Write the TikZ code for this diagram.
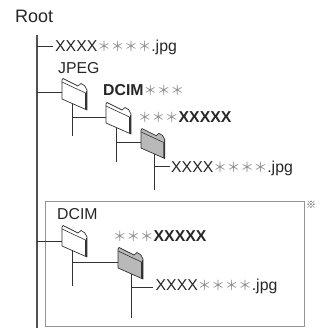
\documentclass[tikz,border=0pt]{standalone}
\usepackage{fontspec}
\setmainfont{Liberation Sans}
\newfontfamily\cjkfont{Noto Sans CJK JP}
\definecolor{ln}{gray}{0.2}
\definecolor{tx}{gray}{0.15}
\definecolor{st}{gray}{0.55}
\newcommand{\strs}[1]{{\color{st}\cjkfont\fontsize{13.5}{14}\selectfont #1}}
\tikzset{
 x=1pt,y=-1pt,
 lbl/.style={inner sep=0pt,anchor=base west,text=tx,font=\fontsize{15.8}{17}\selectfont},
 tree/.style={draw=ln,line width=0.9pt},
 folder/.pic={
  \filldraw[fill=#1,draw=ln,line width=0.7pt,line join=round]
    (0,0) -- (1,-1.5) -- (16,6) -- (19,3.5) .. controls (22,4) and (24,7) .. (25,10)
    -- (25,30) -- (0,19) -- cycle;
  \draw[ln,line width=0.6pt] (0,2) -- (23.5,13) -- (23.5,29.3);
  \draw[ln,line width=1.3pt] (24.8,11) -- (24.8,30);
 }
}
\begin{document}
\begin{tikzpicture}
\useasboundingbox (0,0) rectangle (321,329);
% frame
\draw[draw=gray!85,line width=1pt] (45,201) rectangle (304,326);
% labels
\node[lbl,font=\fontsize{18}{20}\selectfont] (root) at (15,22.5) {Root};
\node[lbl] (f0) at (55,52) {XXXX\strs{＊＊＊＊}.jpg};
\node[lbl] (jpeg) at (58,74) {JPEG};
\node[lbl] (dcim) at (103,95) {\textbf{DCIM}\strs{＊＊＊}};
\node[lbl] (sub) at (138,122.5) {\strs{＊＊＊}\textbf{XXXXX}};
\node[lbl] (f1) at (171,172) {XXXX\strs{＊＊＊＊}.jpg};
\node[lbl] (dcim2) at (57,219) {DCIM};
\node[lbl] (sub2) at (113,241) {\strs{＊＊＊}\textbf{XXXXX}};
\node[lbl] (f2) at (155.5,290) {XXXX\strs{＊＊＊＊}.jpg};
\node[inner sep=0pt,anchor=center,text=gray!60!black,font=\cjkfont\fontsize{10}{11}\selectfont] (mark) at (311,205) {※};
% anchors
\coordinate (rt) at (37,35);
\coordinate (rb) at (37,328);
\coordinate (r0) at (37,46.5);
\coordinate (r1) at (37,92);
\coordinate (r2) at (37,241);
\coordinate (e0) at (53,46.5);
\coordinate (a1) at (62,92);
\coordinate (a1t) at (72,103);
\coordinate (a1m) at (72,117);
\coordinate (a1b) at (72,136);
\coordinate (a2) at (106,117);
\coordinate (a2t) at (116,125);
\coordinate (a2m) at (116,142);
\coordinate (a2b) at (116,162);
\coordinate (a3) at (141,142);
\coordinate (a3t) at (154.5,152);
\coordinate (a3m) at (154.5,166);
\coordinate (a3b) at (154.5,190);
\coordinate (e1) at (170,166);
\coordinate (a4) at (62,241);
\coordinate (a4t) at (72,250);
\coordinate (a4m) at (72,262);
\coordinate (a4b) at (72,286);
\coordinate (a5) at (118,262);
\coordinate (a5t) at (131,272);
\coordinate (a5m) at (131,287);
\coordinate (a5b) at (131,318);
\coordinate (e2) at (153,287);
% tree
\draw[tree,draw=ln!85,line width=1.1pt] (rt) -- (rb);
\draw[tree] (r0) -- (e0);
\draw[tree] (r1) -- (a1);
\draw[tree] (r2) -- (a4);
\draw[tree] (a1t) -- (a1b);
\draw[tree] (a1m) -- (a2);
\draw[tree] (a2t) -- (a2b);
\draw[tree] (a2m) -- (a3);
\draw[tree] (a3t) -- (a3b);
\draw[tree] (a3m) -- (e1);
\draw[tree] (a4t) -- (a4b);
\draw[tree] (a4m) -- (a5);
\draw[tree] (a5t) -- (a5b);
\draw[tree] (a5m) -- (e2);
% folders
\pic at (62,80) {folder=white};
\pic at (106,104) {folder=white};
\pic[yscale=0.95,xscale=0.95] at (141,130) {folder={gray!55}};
\pic at (62,227) {folder=white};
\pic at (118,249) {folder={gray!55}};
\end{tikzpicture}
\end{document}
